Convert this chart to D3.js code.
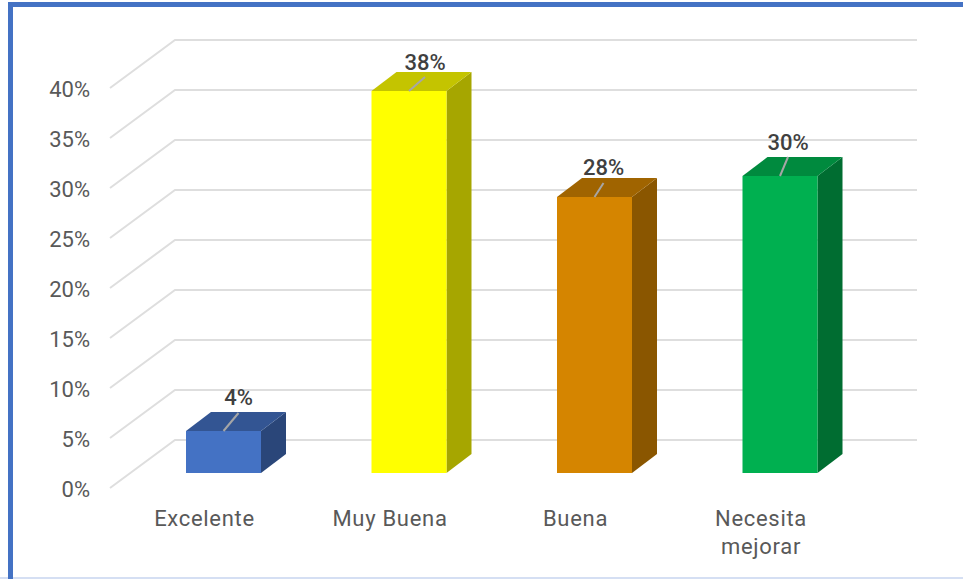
<!DOCTYPE html>
<html><head><meta charset="utf-8">
<script src="https://cdn.jsdelivr.net/npm/d3@7"></script>
<style>html,body{margin:0;padding:0;background:#fff}svg{display:block}</style>
</head><body><svg id="c" width="963" height="579"></svg>
<script>
const categories = ["Excelente","Muy Buena","Buena","Necesita mejorar"];
const values = [4.2,38.2,27.6,29.7];
const valueLabels = ["4%","38%","28%","30%"];
const tickValues = [0,5,10,15,20,25,30,35,40];
const frontColors = ["#4472C4","#FFFF00","#D58500","#00B050"];
const topColors = ["#335593","#C4C400","#A06400","#008A3E"];
const sideColors = ["#2A4679","#A6A600","#8A5600","#006D31"];

const font = "Roboto,'Noto Sans',sans-serif";
const svg = d3.select("#c");
const layout = {left:110, wallDx:65, wallDy:-48, right:917, barDx:25, barDy:-19, floor:473};
// leader line tip relative to the bar's top-centre, and label baseline lift
const leaderDx = [15,16,9,8];
const leaderDy = [-18,-14,-14,-19];
const labelLift = [26,21,22,26];

svg.append("rect").attr("x",0).attr("y",577).attr("width",963).attr("height",2).attr("fill","#D5DFF3");
svg.append("rect").attr("x",8).attr("y",2).attr("width",955).attr("height",5).attr("fill","#4472C4");
svg.append("rect").attr("x",8).attr("y",2).attr("width",5).attr("height",577).attr("fill","#4472C4");

const y = d3.scaleLinear().domain([0,40]).range([488,88]);
const x = d3.scaleBand().domain(categories).range([186,817.5]).paddingInner(1-75/185.5).paddingOuter(0);
const barY = d3.scaleLinear().domain([0,40]).range([layout.floor,layout.floor-400]);

// walls
svg.append("g").selectAll("path").data(tickValues).join("path")
  .attr("fill","none").attr("stroke","#DEDEDE").attr("stroke-width",2)
  .attr("d",d=>{
    const p=d3.path();
    p.moveTo(layout.left,y(d));
    p.lineTo(layout.left+layout.wallDx,y(d)+layout.wallDy);
    p.lineTo(layout.right,y(d)+layout.wallDy);
    return p.toString();
  });

// y axis labels
const ax = svg.append("g").attr("transform",`translate(${layout.left-20},1)`)
  .call(d3.axisLeft(y).tickValues(tickValues).tickSize(0).tickPadding(0).tickFormat(d=>d+"%"));
ax.select(".domain").remove();
ax.selectAll("text").attr("fill","#595959").style("font-family",font).style("font-size","22px");

// bars
const bars = svg.append("g").selectAll("g").data(categories).join("g");
const poly = pts=>pts.map(p=>p.join(",")).join(" ");
bars.each(function(c,i){
  const g=d3.select(this), x0=x(c), x1=x0+x.bandwidth(), t=barY(values[i]), b=barY(0);
  const dx=layout.barDx, dy=layout.barDy;
  g.append("polygon").attr("fill",sideColors[i]).attr("points",poly([[x1,t],[x1+dx,t+dy],[x1+dx,b+dy],[x1,b]]));
  g.append("polygon").attr("fill",topColors[i]).attr("points",poly([[x0,t],[x0+dx,t+dy],[x1+dx,t+dy],[x1,t]]));
  g.append("rect").attr("x",x0).attr("y",t).attr("width",x.bandwidth()).attr("height",b-t).attr("fill",frontColors[i]);
  const cx=x0+x.bandwidth()/2;
  g.append("line").attr("x1",cx).attr("y1",t).attr("x2",cx+leaderDx[i]).attr("y2",t+leaderDy[i])
    .attr("stroke","#A6A6A6").attr("stroke-width",2);
  g.append("text").attr("x",cx+leaderDx[i]).attr("y",t-labelLift[i]).attr("text-anchor","middle")
    .attr("fill","#404040").attr("font-family",font).attr("font-size","22px").attr("font-weight",500)
    .text(valueLabels[i]);
});

// category labels
const labels = svg.append("g").selectAll("text").data(categories).join("text")
  .attr("text-anchor","middle").attr("fill","#595959")
  .attr("font-family",font).attr("font-size","22px").attr("letter-spacing","0.7px")
  .attr("transform",c=>`translate(${x(c)+x.bandwidth()/2-19},526)`);
labels.each(function(c){
  const t=d3.select(this);
  const parts = c==="Necesita mejorar" ? c.split(" ") : [c];
  parts.forEach((w,j)=>t.append("tspan").attr("x",0).attr("dy",j?28:0).text(w));
});
</script></body></html>
